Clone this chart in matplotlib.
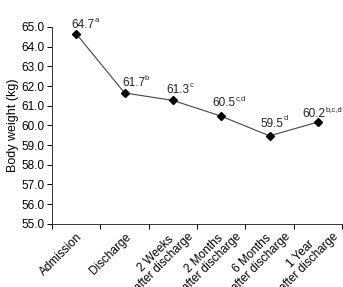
import numpy as np
import matplotlib.pyplot as plt
from matplotlib.transforms import ScaledTranslation

plt.rcParams['font.family'] = ['Liberation Sans', 'DejaVu Sans']

categories = ['Admission', 'Discharge', '2 Weeks\nafter discharge', '2 Months\nafter discharge',
              '6 Months\nafter discharge', '1 Year\nafter discharge']
weights = [64.65, 61.65, 61.27, 60.47, 59.47, 60.17]
value_labels = ['64.7', '61.7', '61.3', '60.5', '59.5', '60.2']
sup_labels = ['a', 'b', 'c', 'c,d', 'd', 'b,c,d']

fig = plt.figure(figsize=(3.43, 2.87), dpi=100)
ax = fig.add_axes([0.152, 0.22, 0.845, 0.686])

x = np.arange(len(categories))
ax.plot(x, weights, color='#444444', lw=0.8, marker='D', ms=4, mfc='black', mec='black')

# label placement (points) relative to each marker
label_dx = [-3.6, -1.9, -4.5, -6.2, -6.2, -10.8]
label_dy = [4, 4.8, 5.2, 7, 6.5, 3.6]
for xi, yi, v, s, dx, dy in zip(x, weights, value_labels, sup_labels, label_dx, label_dy):
    num = ax.annotate(v, (xi, yi), xytext=(dx, dy), textcoords='offset points',
                      ha='left', va='baseline', fontsize=8.5, color='#222222')
    ax.annotate(s, xy=(1.0, 0.62), xycoords=num, xytext=(-0.2, 0), textcoords='offset points',
                ha='left', va='bottom', fontsize=5.5, color='#222222')

ax.set_xlim(-0.5, 5.5)
ax.set_ylim(55, 65)
ax.set_yticks(np.arange(55, 65.1, 1))
ax.set_yticklabels(['%.1f' % t for t in np.arange(55, 65.1, 1)])
ax.set_xticks(np.arange(-0.5, 5.6, 1))
ax.set_xticklabels([])
ax.set_xticks(x, minor=True)
ax.set_xticklabels(categories, minor=True, rotation=45, ha='right', va='top',
                   rotation_mode='anchor', multialignment='center', linespacing=1.0)
ax.tick_params(axis='x', which='minor', length=0, pad=5, labelsize=8.5)
ax.tick_params(axis='x', which='major', length=3.5, width=0.7)
ax.tick_params(axis='y', length=3.5, width=0.7, labelsize=8.5, pad=2)
ax.set_ylabel('Body weight (kg)', fontsize=9, labelpad=2)

# two-line labels sit higher and further right
offset = ScaledTranslation(0.06, 0.085, fig.dpi_scale_trans)
for lab in ax.get_xticklabels(minor=True):
    if '\n' in lab.get_text():
        lab.set_transform(lab.get_transform() + offset)

for sp in ['top', 'right']:
    ax.spines[sp].set_visible(False)
for sp in ['left', 'bottom']:
    ax.spines[sp].set_linewidth(0.7)
    ax.spines[sp].set_color('#333333')

fig.savefig('out.png', dpi=100)
